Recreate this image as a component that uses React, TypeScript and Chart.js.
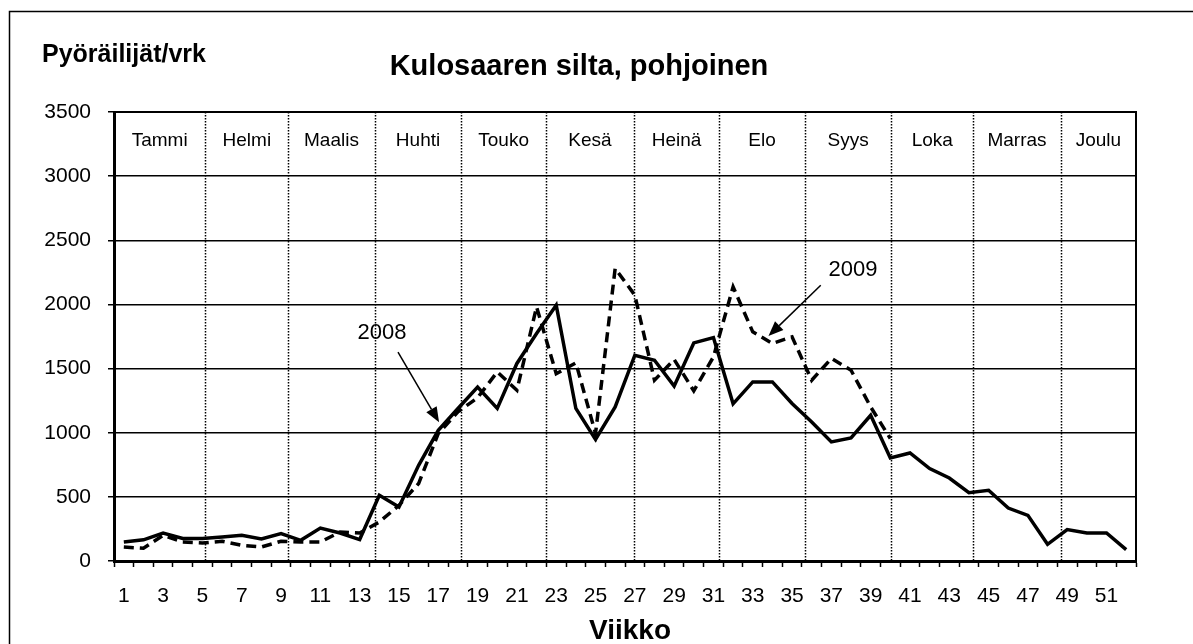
import React, { useEffect, useRef } from 'react';
import { Chart, registerables } from 'chart.js';

Chart.register(...registerables);

// ---- data ----
const weeks = ['1','2','3','4','5','6','7','8','9','10','11','12','13','14','15','16','17','18','19','20','21','22','23','24','25','26','27','28','29','30','31','32','33','34','35','36','37','38','39','40','41','42','43','44','45','46','47','48','49','50','51','52'];

const cyclists2008 = [148, 165, 218, 175, 175, 187, 200, 172, 214, 161, 257, 218, 167, 512, 421, 746, 1019, 1189, 1355, 1189, 1540, 1774, 1994, 1189, 947, 1201, 1604, 1565, 1363, 1700, 1742, 1225, 1396, 1396, 1228, 1084, 928, 959, 1136, 803, 842, 721, 647, 533, 551, 413, 356, 130, 245, 218, 218, 89];

const cyclists2009 = [109, 99, 200, 148, 140, 154, 122, 109, 154, 148, 148, 226, 218, 304, 434, 604, 994, 1162, 1273, 1474, 1331, 1981, 1460, 1545, 994, 2281, 2072, 1409, 1571, 1326, 1591, 2137, 1786, 1696, 1747, 1409, 1579, 1487, 1201, 955];

const months = ['Tammi', 'Helmi', 'Maalis', 'Huhti', 'Touko', 'Kesä', 'Heinä', 'Elo', 'Syys', 'Loka', 'Marras', 'Joulu'];
// month boundaries measured in weeks from the left edge of the axis
const monthBoundaries = [4.65, 8.87, 13.26, 17.68, 21.97, 26.46, 30.78, 35.16, 39.55, 43.72, 48.17];

const yMin = 0;
const yMax = 3500;
const yStep = 500;

const titleText = 'Kulosaaren silta, pohjoinen';
const yTitleText = 'Pyöräilijät/vrk';
const xTitleText = 'Viikko';

// annotations: [label, textIndex, textValue, arrowStartIndex, arrowStartValue, tipIndex, tipValue]
const annotation2008 = ['2008', 13.14, 1776, 13.95, 1628, 16.04, 1082] as const;
const annotation2009 = ['2009', 37.1, 2267, 35.46, 2150, 32.8, 1753] as const;

const FONT = '"Liberation Sans", Arial, Helvetica, sans-serif';

function drawArrow(ctx: CanvasRenderingContext2D, x1: number, y1: number, x2: number, y2: number) {
  const ang = Math.atan2(y2 - y1, x2 - x1);
  const len = 15;
  const hw = 6;
  const bx = x2 - len * Math.cos(ang);
  const by = y2 - len * Math.sin(ang);
  ctx.beginPath();
  ctx.moveTo(x1, y1);
  ctx.lineTo(bx, by);
  ctx.lineWidth = 1.5;
  ctx.strokeStyle = '#000';
  ctx.setLineDash([]);
  ctx.stroke();
  ctx.beginPath();
  ctx.moveTo(x2, y2);
  ctx.lineTo(bx + hw * Math.sin(ang), by - hw * Math.cos(ang));
  ctx.lineTo(bx - hw * Math.sin(ang), by + hw * Math.cos(ang));
  ctx.closePath();
  ctx.fillStyle = '#000';
  ctx.fill();
}

const decorPlugin = {
  id: 'decor',
  beforeDatasetsDraw(chart: any) {
    const { ctx, chartArea: a, scales } = chart;
    const x = scales.x;
    ctx.save();
    ctx.strokeStyle = '#000';
    ctx.lineWidth = 1.5;
    ctx.setLineDash([1.5, 1.5]);
    monthBoundaries.forEach((b) => {
      const px = Math.round(x.getPixelForValue(b - 0.5)) + 0.5;
      ctx.beginPath();
      ctx.moveTo(px, a.top);
      ctx.lineTo(px, a.bottom);
      ctx.stroke();
    });
    ctx.restore();
  },
  afterDraw(chart: any) {
    const { ctx, chartArea: a, scales } = chart;
    const x = scales.x;
    const y = scales.y;
    ctx.save();
    // outer frame (left and top)
    ctx.strokeStyle = '#000';
    ctx.lineWidth = 1.5;
    ctx.setLineDash([]);
    ctx.beginPath();
    ctx.moveTo(9.5, 644);
    ctx.lineTo(9.5, 11.5);
    ctx.lineTo(1193, 11.5);
    ctx.stroke();

    // plot border top & right
    ctx.lineWidth = 2;
    ctx.beginPath();
    ctx.moveTo(a.left, a.top);
    ctx.lineTo(a.right, a.top);
    ctx.lineTo(a.right, a.bottom);
    ctx.stroke();

    // month labels
    ctx.fillStyle = '#000';
    ctx.font = `19px ${FONT}`;
    ctx.textAlign = 'center';
    ctx.textBaseline = 'middle';
    const edges = [0, ...monthBoundaries, weeks.length];
    months.forEach((m, i) => {
      const mid = (edges[i] + edges[i + 1]) / 2;
      ctx.fillText(m, x.getPixelForValue(mid - 0.5), a.top + 29);
    });

    // titles
    ctx.font = `bold 25px ${FONT}`;
    ctx.textAlign = 'left';
    ctx.fillText(yTitleText, 42, 55);
    ctx.font = `bold 29px ${FONT}`;
    ctx.textAlign = 'center';
    ctx.fillText(titleText, 579, 67);
    ctx.font = `bold 28px ${FONT}`;
    ctx.fillText(xTitleText, 630, 631);

    // annotations
    [annotation2008, annotation2009].forEach((an) => {
      const [label, ti, tv, si, sv, pi, pv] = an;
      ctx.font = `22px ${FONT}`;
      ctx.textAlign = 'center';
      ctx.textBaseline = 'middle';
      ctx.fillStyle = '#000';
      ctx.fillText(label, x.getPixelForValue(ti), y.getPixelForValue(tv));
      drawArrow(ctx, x.getPixelForValue(si), y.getPixelForValue(sv), x.getPixelForValue(pi), y.getPixelForValue(pv));
    });
    ctx.restore();
  },
};

export default function App() {
  const canvasRef = useRef<HTMLCanvasElement | null>(null);

  useEffect(() => {
    if (!canvasRef.current) return;
    Chart.defaults.font.family = FONT;
    Chart.defaults.color = '#000';
    const chart = new Chart(canvasRef.current, {
      type: 'line',
      data: {
        labels: weeks,
        datasets: [
          {
            label: '2008',
            data: cyclists2008,
            borderColor: '#000',
            borderWidth: 3.5,
            pointRadius: 0,
            tension: 0,
            fill: false,
            order: 1,
          },
          {
            label: '2009',
            data: cyclists2009,
            borderColor: '#000',
            borderWidth: 3.5,
            borderDash: [10, 6],
            pointRadius: 0,
            tension: 0,
            fill: false,
            order: 2,
          },
        ],
      },
      options: {
        responsive: false,
        animation: false,
        devicePixelRatio: 1,
        layout: { padding: { left: 0, top: 112, right: 57, bottom: 0 } },
        plugins: {
          legend: { display: false },
          title: { display: false },
          tooltip: { enabled: false },
        },
        scales: {
          x: {
            type: 'category',
            offset: true,
            grid: {
              offset: true,
              drawOnChartArea: false,
              drawTicks: true,
              tickLength: 6,
              tickColor: '#000',
              tickWidth: 1.5,
            },
            border: { display: true, color: '#000', width: 3 },
            ticks: {
              autoSkip: false,
              maxRotation: 0,
              minRotation: 0,
              padding: 17,
              color: '#000',
              font: { size: 21, family: FONT },
              callback: (_v: any, i: number) => (i % 2 === 0 ? weeks[i] : ''),
            },
            afterFit: (s: any) => {
              s.height = 644 - 561;
            },
          },
          y: {
            min: yMin,
            max: yMax,
            ticks: {
              stepSize: yStep,
              padding: 17,
              color: '#000',
              font: { size: 21, family: FONT },
              callback: (v: any) => String(v),
            },
            grid: {
              color: '#000',
              lineWidth: 1.5,
              drawTicks: true,
              tickLength: 6,
              tickColor: '#000',
            },
            border: { display: true, color: '#000', width: 3 },
            afterFit: (s: any) => {
              s.width = 114;
            },
          },
        },
      },
      plugins: [decorPlugin],
    });
    return () => chart.destroy();
  }, []);

  return (
    <div style={{ position: 'absolute', left: 0, top: 0, width: 1193, height: 644, background: '#fff' }}>
      <canvas ref={canvasRef} width={1193} height={644} style={{ display: 'block' }} />
    </div>
  );
}
